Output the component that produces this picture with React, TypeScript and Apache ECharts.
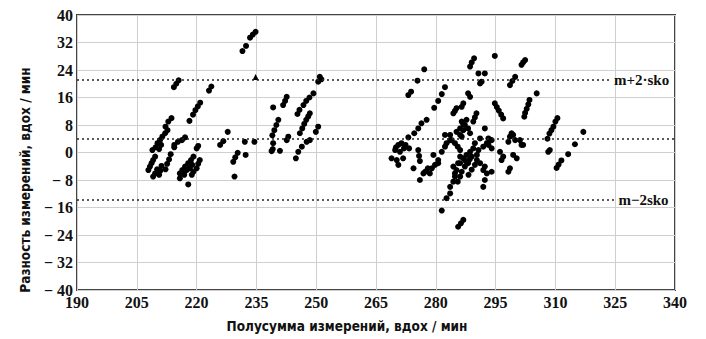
import React, { useEffect, useRef } from "react";
import * as echarts from "echarts";

const xTickMin = 190;
const xTickMax = 340;
const xTickStep = 15;
const yTickMin = -40;
const yTickMax = 40;
const yTickStep = 8;

const refLevels = [21.1, 3.9, -13.8];
const refLabels = ["m+2·sko", "m−2sko"];

const leftGroup = [
  [214.3, 19], [214.9, 20], [215.5, 21],
  [218.2, 9.2], [219.1, 11], [219.7, 12.3], [220.3, 13.4], [220.9, 14.5],
  [223.1, 18], [223.7, 19.2],
  [213.7, 10], [212.9, 9], [212.2, 7.5], [212.7, 6.5], [212.1, 5.6], [211.4, 4.6], [210.8, 3.6], [210.2, 2.7], [209.7, 1.5], [208.9, 0.7], [211.1, 2.2], [210.6, 1],
  [215.3, 3.1], [216.3, 3.6], [217.1, 4.4], [214.4, 2.2], [214.4, 1.5],
  [207.9, -5.1], [208.3, -4.1], [208.7, -3.1], [209.1, -2.2], [209.6, -1.2], [209.1, -7], [209.6, -6.1], [210.1, -4.9], [210.6, -6.5], [210.9, -5.3], [211.2, -3.9], [212.2, -4.9], [212.6, -3.3], [213.1, -2], [213.5, -0.5],
  [220, 1.2], [220.4, 1.9], [219.2, -1.2], [218.6, -2.2], [217.9, -3.1], [217.1, -4.1], [216.4, -5.1], [215.8, -6.1], [217.5, -5.1], [218.3, -4.6], [218.9, -3.6], [220.8, -2.2], [220.4, -3.3], [220, -4.6], [219.2, -5.6], [218.8, -6.5], [215.8, -7.5], [217.9, -9.3], [216.9, -6.5],
];

const midLeftGroup = [
  [225.9, 2.2], [226.7, 3.3], [227.8, 6], [229.2, -2.7], [229.7, -1.4], [230.3, -0.1], [229.5, -7], [232.3, -0.7], [232.1, 3.1], [234.5, 3.1],
  [231.5, 29.5], [232.4, 31], [233.4, 33.4], [234.1, 34.3], [234.8, 35.1],
];

const triangleGroup = [[234.8, 22]];

const midGroup = [
  [238.8, 0.4], [239.2, 2.7], [239.1, 1], [240.9, 0.5], [239, 5], [239.5, 6.5], [240, 8], [240.5, 9.5], [239.2, 13.1], [241.7, 13.8], [242.2, 15], [242.6, 16.2], [242.6, 3.6], [243, 4.6],
  [244.9, -1.7], [245.5, 0.2], [246.4, 1.7], [245.9, 5.6], [246.5, 7], [247, 8.3], [247.5, 9.5], [248, 10.5], [248.4, 11.4], [245.3, 11.2], [245.8, 12.4], [246.8, 13.8], [247.5, 15], [248.3, 16], [249.3, 17.2],
  [247.6, 3.1], [248.4, 3.6], [249.9, 6], [250.5, 7.5], [250.5, 20.6], [250.9, 22], [251.3, 21.3],
];

const centralGroup = [
  [277.1, 24.2], [275.4, 20.9], [273.8, 17.7], [273.1, 16.7],
  [282.3, 19], [281.5, 17], [280.6, 15], [279.6, 13],
  [285.2, 12.9], [284.4, 11.4], [284.8, 12.1],
  [277.7, 9.5], [276.4, 8.5], [275.6, 7], [274.6, 5.6], [273.1, 4.4],
  [270.6, 2.2], [271.4, 2.7], [272.4, 2.2], [273.3, 1.2], [269.8, 0.7], [271, 0.2], [268.9, -1.7], [270.2, -2.2], [271.8, -1.7], [270.6, -3.6], [270, 1.5], [272, 1.2],
  [275.6, 0.7], [275.8, -1], [276, -2.5], [274.4, -4.6], [276, -8], [277.3, -5.6], [278, -4.6], [276.9, -6.1],
  [279.4, -0.7], [280.6, -2.2], [279.8, -3.6], [279, -4.6], [281.5, 0.2], [282.3, 1.7], [282.7, 2.7], [283.6, 3.6], [278.5, -6.1], [280.6, -3.1],
  [285.2, 6], [286.1, 5.1], [284.8, 2.7], [286.1, 0.7], [285.5, 1.7], [282.3, 5.1], [283.6, 5.1], [284, 3.6],
  [284.4, -4.1], [285.2, -5.1], [284.8, -7], [285.5, -8.5], [283.6, -10], [284.4, -8.5], [282.7, -13.3], [283.6, -11.9], [281.5, -16.9], [285.6, -21.6], [286.3, -20.6], [286.9, -19.6],
  [285.6, -3.1], [284.8, -6.1], [286.1, -1.2], [286.1, 7], [286.9, 8.2], [287.7, 9.5], [286.9, 14.3], [286.5, 13.3],
];

const eastGroup = [
  [288.1, 17.2], [288.6, 16.2],
  [288.6, 25], [289, 26.2], [289.6, 27.4], [290.7, 23], [292.3, 23], [291.5, 20.6], [291.1, 20.1], [294.8, 28.1],
  [302.4, 26.9], [301.9, 26.2], [301.5, 25.5], [299.9, 22], [299.2, 20.8], [298.6, 19.6], [305.3, 17.2],
  [294.8, 14.3], [295.3, 13.2], [295.8, 12.2], [296.4, 11], [296.9, 9.9],
  [303.5, 15.3], [303.2, 14], [302.8, 12.7], [302.4, 11.5], [302.2, 10.4],
  [290.2, 11.4], [289.8, 10.2], [289.4, 9],
  [286.5, 9], [287.3, 8], [288.1, 7], [286.9, 6.5], [288.6, 5.6], [286.5, 4.6], [292.3, 7],
  [291.1, 4.1], [293.2, 4.1], [294, 3.6], [292.8, 2.7], [291.9, 1.7], [293.6, 3.6], [293.2, 2.2], [294, 1.2],
  [298.6, 4.6], [299.9, 3.6], [301.5, 2.2], [298.2, 3.1], [299, 5.6], [301.1, 3.6], [301.9, 2.2], [299.4, 5.1],
  [299.4, -0.7], [300.3, -1.7], [296.1, 0.2], [296.9, -1.2], [296.5, -2.2], [298.6, -4.6], [298.2, -5.6], [294, -5.6], [291.9, -10], [291.9, -5.1], [292.3, -4.1], [291.1, -3.1], [292.8, -6.1], [292.3, -8],
  [289.8, 2.7], [289.4, 1.2], [288.6, 0.2], [287.7, -0.7], [286.9, -1.7], [289, -1.2], [288.1, -3.1], [287.3, -4.1], [286.5, -5.6], [290.3, -2.2], [289.8, -3.6], [290.7, 0.7], [290.3, -0.7], [286.1, -3.1], [286.1, -7], [288.5, -2], [287.5, -2.5], [289, -5], [288.2, -6.5],
];

const farGroup = [
  [308, 4], [308.5, 5.5], [309, 6.5], [309.5, 7.5], [310, 9], [310.5, 10], [317, 6], [314.9, 2.4], [313.2, -0.5], [308.6, 0.7], [308.2, 0.2], [310.3, -4.5], [310.8, -3.5], [311.5, -2.3],
];

const xTitle = "Полусумма измерений, вдох / мин";
const yTitle = "Разность измерений, вдох / мин";

export default function App() {
  const ref = useRef<HTMLDivElement>(null);

  useEffect(() => {
    if (!ref.current) return;
    const chart = echarts.init(ref.current, null, { renderer: "svg" });
    const allPoints = [
      ...leftGroup,
      ...midLeftGroup,
      ...midGroup,
      ...centralGroup,
      ...eastGroup,
      ...farGroup,
    ];
    const dash = { type: [2, 3], color: "#222", width: 1.5 };
    chart.setOption({
      animation: false,
      backgroundColor: "#fff",
      grid: {
        left: 77,
        right: 31,
        top: 15,
        bottom: 49,
        show: true,
        borderColor: "#444",
        borderWidth: 2,
        backgroundColor: "transparent",
      },
      xAxis: {
        type: "value",
        min: xTickMin,
        max: xTickMax,
        interval: xTickStep,
        axisLine: { show: false },
        axisTick: { show: false },
        splitLine: { show: true, lineStyle: { color: "#cfcfcf", width: 1 } },
        axisLabel: {
          margin: 4,
          fontFamily: "Liberation Serif",
          fontSize: 16,
          fontWeight: "bold",
          color: "#111",
        },
      },
      yAxis: {
        type: "value",
        min: yTickMin,
        max: yTickMax,
        interval: yTickStep,
        axisLine: { show: false },
        axisTick: { show: false },
        splitLine: { show: true, lineStyle: { color: "#cfcfcf", width: 1 } },
        axisLabel: {
          margin: 4,
          fontFamily: "Liberation Serif",
          fontSize: 16,
          fontWeight: "bold",
          color: "#111",
          formatter: (v: number) => (v < 0 ? "− " + Math.abs(v) : String(v)),
        },
      },
      graphic: [
        {
          type: "text",
          x: 347,
          y: 326,
          style: {
            text: xTitle,
            fontFamily: "DejaVu Sans Condensed",
            fontSize: 13.5,
            fontWeight: "bold",
            fill: "#111",
            align: "center",
            verticalAlign: "middle",
          },
        },
        {
          type: "text",
          x: 25,
          y: 180,
          rotation: Math.PI / 2,
          style: {
            text: yTitle,
            fontFamily: "DejaVu Sans Condensed",
            fontSize: 13.5,
            fontWeight: "bold",
            fill: "#111",
            align: "center",
            verticalAlign: "middle",
          },
        },
      ],
      series: [
        {
          type: "scatter",
          symbol: "circle",
          symbolSize: 6,
          itemStyle: { color: "#000", opacity: 1 },
          silent: true,
          data: allPoints,
          markLine: {
            silent: true,
            symbol: "none",
            label: { show: false },
            lineStyle: dash,
            data: [
              [{ coord: [xTickMin, refLevels[0]] }, { coord: [324.2, refLevels[0]] }],
              [{ coord: [xTickMin, refLevels[1]] }, { coord: [xTickMax, refLevels[1]] }],
              [{ coord: [xTickMin, refLevels[2]] }, { coord: [325.2, refLevels[2]] }],
            ],
          },
          markPoint: {
            silent: true,
            symbol: "circle",
            symbolSize: 1,
            itemStyle: { color: "rgba(0,0,0,0)" },
            label: {
              show: true,
              position: "inside",
              formatter: "{b}",
              fontFamily: "Liberation Serif",
              fontSize: 15,
              fontWeight: "bold",
              color: "#111",
            },
            data: [
              { name: refLabels[0], coord: [331.6, refLevels[0]] },
              { name: refLabels[1], coord: [332.1, refLevels[2]] },
            ],
          },
        },
        {
          type: "scatter",
          symbol: "triangle",
          symbolSize: 6,
          itemStyle: { color: "#000", opacity: 1 },
          silent: true,
          data: triangleGroup,
        },
      ],
    });
    return () => chart.dispose();
  }, []);

  return (
    <div
      ref={ref}
      style={{ position: "fixed", left: 0, top: 0, width: 706, height: 339, background: "#fff" }}
    />
  );
}
